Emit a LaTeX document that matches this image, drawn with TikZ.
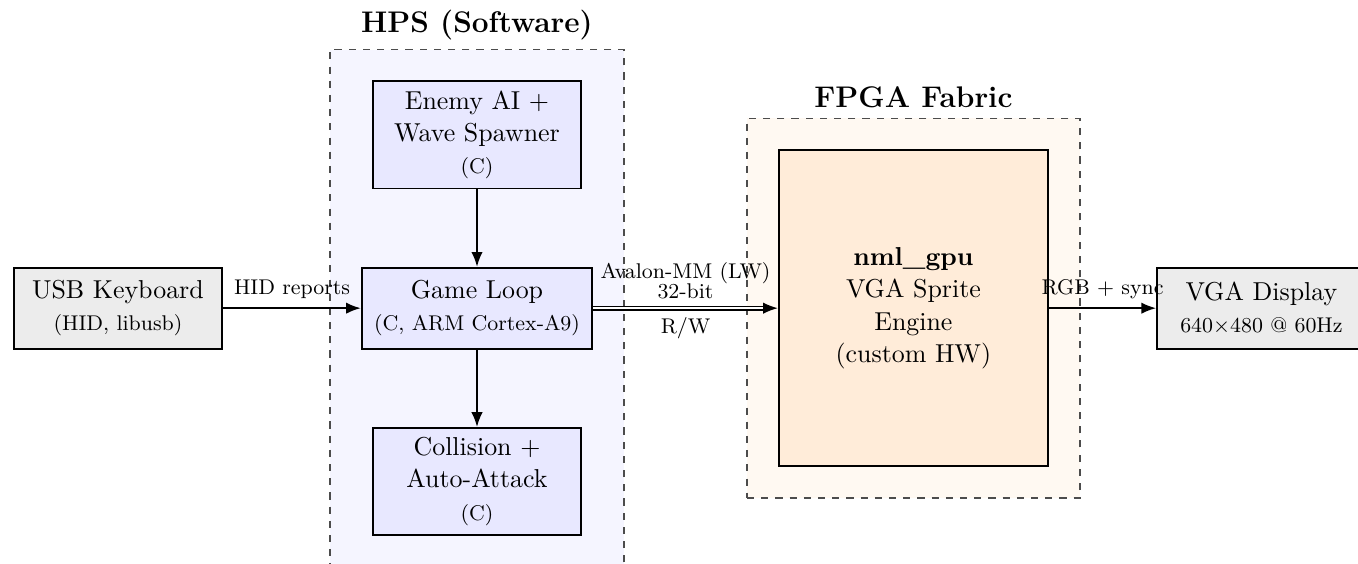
\documentclass[tikz,border=0pt,11pt]{standalone}
\usetikzlibrary{arrows.meta,fit,backgrounds}

\begin{document}
\begin{tikzpicture}[
    block/.style={draw, thick, fill=blue!9, align=center, inner xsep=5.2pt, inner ysep=4pt,
        minimum width=3.1cm, minimum height=1.2cm},
    iobox/.style={block, fill=gray!15},
    hwbox/.style={block, fill=orange!15, minimum width=4cm, minimum height=4.7cm},
    region/.style={draw=black!70, semithick, dashed, inner sep=13pt},
    title/.style={font=\fontsize{12.6}{15}\selectfont\bfseries},
    lbl/.style={font=\footnotesize},
    flow/.style={-{Latex[length=2.2mm, width=1.7mm]}, thick},
    bus/.style={-{Latex[length=2.2mm, width=1.7mm]}, semithick, double, double distance=0.9pt}
]
    \useasboundingbox (-7.085,-3.789) rectangle (13.085,4.577);

    % Keyboard input
    \node[iobox] (usb) at (-5.333,0) {USB Keyboard\\{\footnotesize (HID, libusb)}};

    % Software blocks on the HPS
    \node[block] (enemy) at (0,2.573) {Enemy AI +\\Wave Spawner\\{\footnotesize (C)}};
    \node[block] (game) at (0,0) {Game Loop\\{\footnotesize (C, ARM Cortex-A9)}};
    \node[block] (collision) at (0,-2.573) {Collision +\\Auto-Attack\\{\footnotesize (C)}};

    % Hardware on the FPGA
    \node[hwbox] (gpu) at (6.482,0) {\textbf{nml\_gpu}\\VGA Sprite\\Engine\\(custom HW)};

    % Output
    \node[iobox] (vga) at (11.651,0) {VGA Display\\{\footnotesize 640$\times$480 @ 60Hz}};

    % Dashed regions behind the blocks
    \begin{scope}[on background layer]
        \node[region, fill=blue!4, fit=(enemy)(game)(collision)] (hps) {};
        \node[region, fill=orange!5, fit=(gpu)] (fpga) {};
    \end{scope}
    \node[title] (hpstitle) at (0,4.2) {HPS (Software)};
    \node[title] (fpgatitle) at (6.482,3.13) {FPGA Fabric};

    % Connections
    \draw[flow] (usb) -- node[lbl, above] {HID reports} (game);
    \draw[flow] (enemy) -- (game);
    \draw[flow] (game) -- (collision);
    \draw[bus] (game) -- node[lbl, above, align=center] {Avalon-MM (LW)\\[-2.5pt]32-bit}
        node[lbl, below] {R/W} (gpu);
    \draw[flow] (gpu) -- node[lbl, above] {RGB + sync} (vga);

\end{tikzpicture}
\end{document}
